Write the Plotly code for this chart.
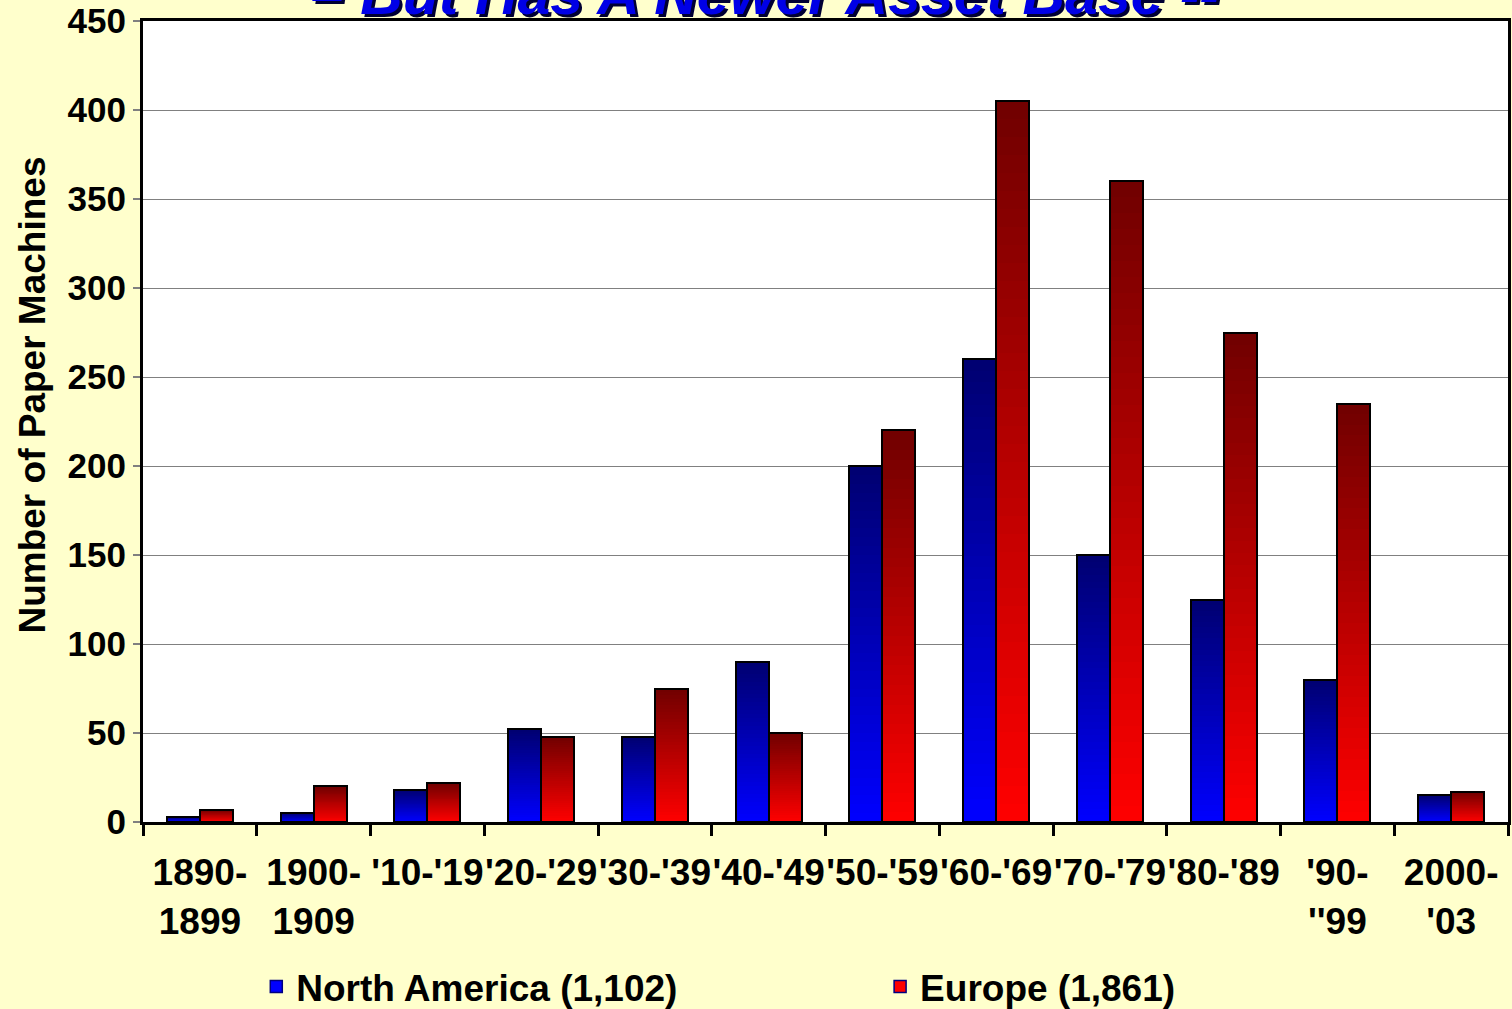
import plotly.graph_objects as go

# Paper machine counts by decade of installation
categories = ["1890-<br>1899", "1900-<br>1909", "'10-'19", "'20-'29", "'30-'39",
              "'40-'49", "'50-'59", "'60-'69", "'70-'79", "'80-'89",
              "'90-<br>''99", "2000-<br>'03"]
north_america = [3, 5, 18, 52, 48, 90, 200, 260, 150, 125, 80, 15]
europe = [7, 20, 22, 48, 75, 50, 220, 405, 360, 275, 235, 17]
series_names = ["North America (1,102)", "Europe (1,861)"]
y_ticks = [0, 50, 100, 150, 200, 250, 300, 350, 400, 450]

FONT = "Liberation Sans, Arial, sans-serif"
BAR_W = 0.29
N_SLICES = 40


def mix(c0, c1, t):
    return "rgb(%d,%d,%d)" % tuple(round(a + (b - a) * t) for a, b in zip(c0, c1))


fig = go.Figure()

series = [
    (north_america, -BAR_W, (0, 0, 255), (0, 0, 112), "#0000FF", "legend"),
    (europe, 0.0, (255, 0, 0), (112, 0, 0), "#FF0000", "legend2"),
]

for (vals, off, bottom_c, top_c, _, _), name in zip(series, series_names):
    # vertical gradient: each slice runs from its base to the bar top
    for i in range(N_SLICES):
        frac = i / N_SLICES
        fig.add_trace(go.Bar(
            x=categories,
            y=[v * (1 - frac) for v in vals],
            base=[v * frac for v in vals],
            width=BAR_W, offset=off,
            marker=dict(color=mix(bottom_c, top_c, (i + 0.5) / N_SLICES),
                        line=dict(width=0)),
            showlegend=False, hoverinfo="skip",
        ))
    # outline of each bar
    fig.add_trace(go.Bar(
        x=categories, y=vals, width=BAR_W, offset=off,
        marker=dict(color="rgba(0,0,0,0)", line=dict(color="black", width=2)),
        showlegend=False, name=name,
    ))

# legend entries
for (_, _, _, _, col, leg), name in zip(series, series_names):
    fig.add_trace(go.Bar(
        x=[None], y=[None], name=name, legend=leg,
        marker=dict(color=col, line=dict(color="#000080", width=1.5)),
    ))

# slide heading, with drop shadow
heading = "\u2013 But Has A Newer Asset Base --"
for dx, dy, col in [(3, -3, "#000033"), (0, 0, "#0000E6")]:
    fig.add_annotation(
        text="<b><i>%s</i></b>" % heading, xref="paper", yref="paper",
        x=0.456, y=1, xanchor="center", yanchor="middle",
        xshift=dx, yshift=27 + dy, showarrow=False,
        font=dict(family=FONT, size=59, color=col),
    )

# y-axis title, sitting slightly above the plot's mid-height
fig.add_annotation(
    text="<b>Number of Paper Machines</b>", xref="paper", yref="paper",
    x=-0.0813, y=0.5 + 26 / 801, xanchor="center", yanchor="middle",
    textangle=-90, showarrow=False,
    font=dict(family=FONT, size=37, color="black"),
)

legend_style = dict(
    orientation="h", yanchor="middle", xanchor="left",
    font=dict(family=FONT, size=37, color="black", weight="bold"),
    bgcolor="rgba(0,0,0,0)", itemwidth=30,
)

fig.update_layout(
    width=1512, height=1009,
    margin=dict(l=143, r=4, t=21, b=187, autoexpand=False),
    paper_bgcolor="#FFFFCC", plot_bgcolor="white",
    barmode="overlay", bargap=0,
    font=dict(family=FONT, color="black"),
    showlegend=True,
    legend=dict(x=0.083, y=-0.206, **legend_style),
    legend2=dict(x=0.54, y=-0.206, **legend_style),
)

fig.update_xaxes(
    type="category", categoryorder="array", categoryarray=categories,
    tickson="boundaries", ticks="outside", ticklen=11, tickwidth=3, tickcolor="black",
    showline=True, linecolor="black", linewidth=3, mirror=True,
    tickangle=0,
    tickfont=dict(family=FONT, size=37, color="black", weight="bold"),
    ticklabelstandoff=16,
    showgrid=False, automargin=False,
)

fig.update_yaxes(
    range=[0, 450], tickvals=y_ticks,
    ticks="outside", ticklen=7, tickwidth=2, tickcolor="#808080",
    showline=True, linecolor="black", linewidth=3, mirror=True,
    showgrid=True, gridcolor="#808080", gridwidth=1.2,
    zeroline=False, automargin=False,
    tickfont=dict(family=FONT, size=35, color="black", weight="bold"),
)

fig.write_html("out.html")
